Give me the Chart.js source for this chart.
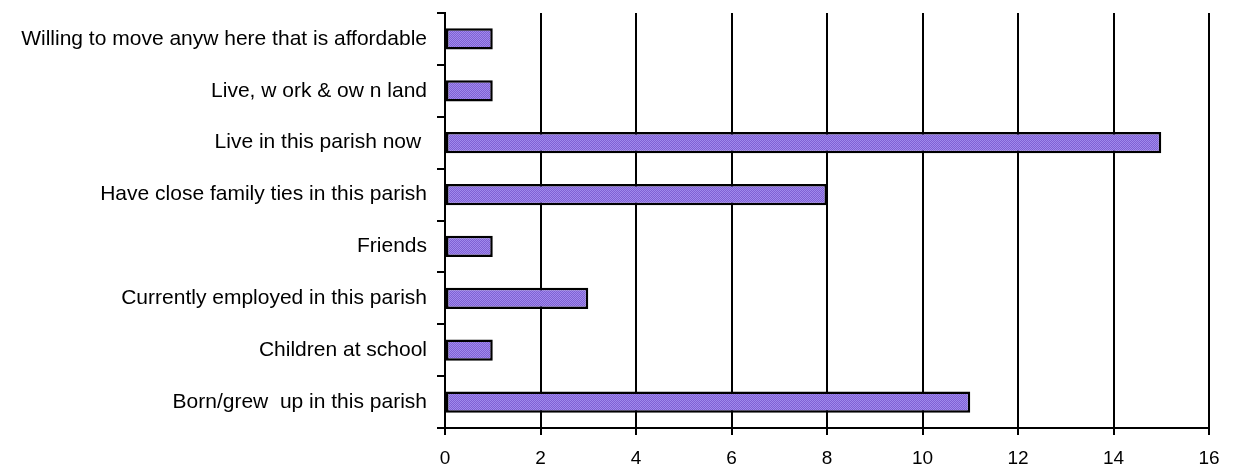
<!DOCTYPE html>
<html>
<head>
<meta charset="utf-8">
<script src="https://cdn.jsdelivr.net/npm/chart.js@4/dist/chart.umd.min.js"></script>
<style>
  html, body { margin: 0; padding: 0; background: #fff; }
  #wrap { width: 1233px; height: 468px; }
</style>
</head>
<body>
<div id="wrap"><canvas id="chart-reasons"></canvas></div>
<script>
const reasonLabels = [
    'Willing to move anyw here that is affordable',
    'Live, w ork & ow n land',
    'Live in this parish now ',
    'Have close family ties in this parish',
    'Friends',
    'Currently employed in this parish',
    'Children at school',
    'Born/grew  up in this parish'
];
const reasonCounts = [1, 1, 15, 8, 1, 3, 1, 11];
const xTicks = [0, 2, 4, 6, 8, 10, 12, 14, 16];

// dotted purple fill like the original
function barPattern() {
    const c = document.createElement('canvas');
    c.width = 2; c.height = 2;
    const g = c.getContext('2d');
    g.fillStyle = '#7f60d4';
    g.fillRect(0, 0, 2, 2);
    g.fillStyle = '#a08aec';
    g.fillRect(0, 0, 1, 1);
    g.fillRect(1, 1, 1, 1);
    return g.createPattern(c, 'repeat');
}

const ctx = document.getElementById('chart-reasons').getContext('2d');

Chart.defaults.font.family = '"Liberation Sans", Arial, sans-serif';
Chart.defaults.font.size = 21;
Chart.defaults.color = '#000';

const reasonsChart = new Chart(ctx, {
    type: 'bar',
    data: {
        labels: reasonLabels,
        datasets: [{
            data: reasonCounts,
            backgroundColor: barPattern(),
            borderColor: '#000',
            borderWidth: 2.5,
            borderSkipped: false,
            categoryPercentage: 1,
            barPercentage: 0.41
        }]
    },
    options: {
        indexAxis: 'y',
        responsive: true,
        maintainAspectRatio: false,
        animation: false,
        layout: {
            padding: { top: 13, right: 24, bottom: 0, left: 0 }
        },
        plugins: {
            legend: { display: false },
            tooltip: { enabled: false }
        },
        scales: {
            x: {
                min: 0,
                max: 16,
                afterBuildTicks: axis => {
                    axis.ticks = xTicks.map(v => ({ value: v }));
                },
                afterFit: axis => {
                    axis.height = 40;
                    axis.paddingLeft = 0;
                    axis.paddingRight = 0;
                },
                grid: {
                    color: '#000',
                    lineWidth: 2,
                    drawTicks: true,
                    tickLength: 7
                },
                border: { display: true, color: '#000', width: 2 },
                ticks: { padding: 12, maxRotation: 0, font: { size: 19 } }
            },
            y: {
                afterFit: axis => {
                    axis.width = 445;
                    axis.paddingTop = 0;
                    axis.paddingBottom = 0;
                },
                grid: {
                    offset: true,
                    drawOnChartArea: false,
                    color: '#000',
                    lineWidth: 2,
                    tickLength: 8
                },
                border: { display: true, color: '#000', width: 2 },
                ticks: { padding: 10, autoSkip: false }
            }
        }
    }
});
</script>
</body>
</html>
